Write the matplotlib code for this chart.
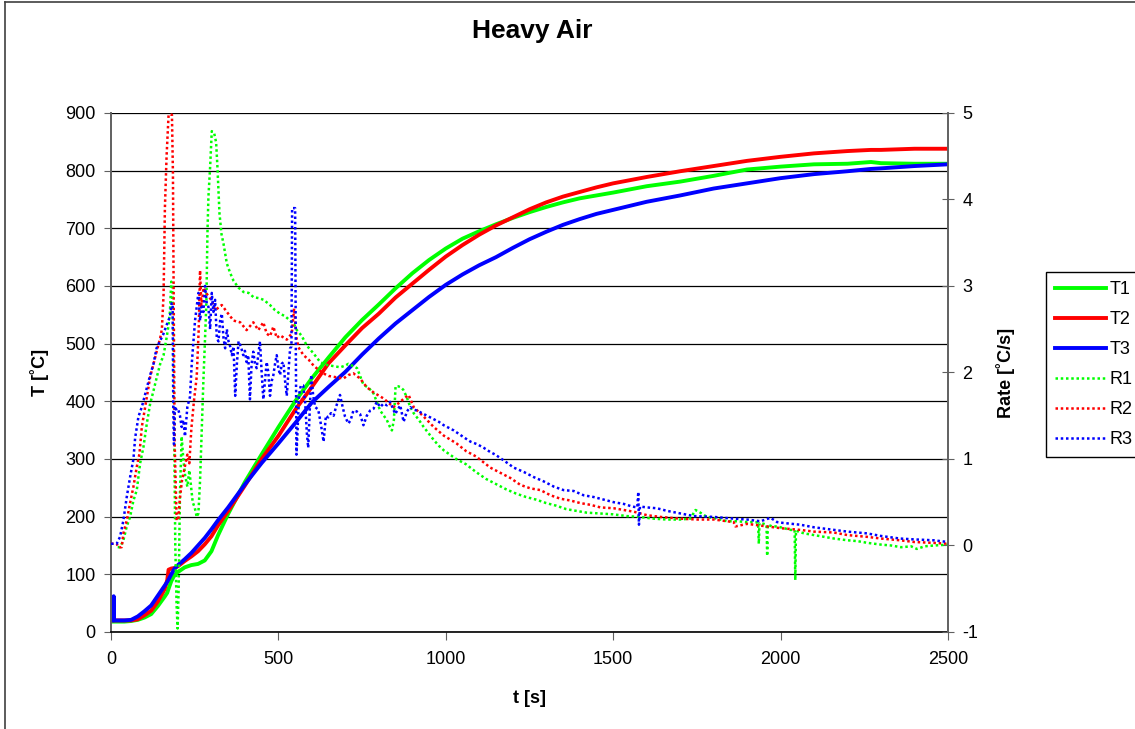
import matplotlib
matplotlib.use('Agg')
import matplotlib.pyplot as plt
from matplotlib.lines import Line2D

plt.rcParams['font.family'] = ['Liberation Sans', 'DejaVu Sans']
plt.rcParams['axes.unicode_minus'] = False

# temperatures, shared time grid [s]
t_T = [0, 5, 7, 8, 9, 20, 40, 60, 80, 100, 120, 140, 160, 168, 172, 180, 190, 200,
       220, 240, 260, 280, 300, 320, 350, 400, 450, 500, 550, 600, 650, 700, 750, 800,
       850, 900, 950, 1000, 1050, 1100, 1150, 1200, 1250, 1300, 1350, 1400, 1450, 1500,
       1600, 1700, 1800, 1900, 2000, 2100, 2200, 2270, 2300, 2400, 2500]
T1 = [18, 18, 18, 18, 18, 18, 18, 19, 21, 25, 31, 45, 61, 68, 75, 88, 99, 104,
      112, 116, 118, 124, 140, 168, 205, 260, 308, 355, 400, 440, 476, 511, 541, 568,
      596, 622, 645, 665, 682, 695, 707, 718, 728, 737, 745, 752, 757, 762,
      773, 781, 791, 802, 807, 811, 812, 815, 813, 812, 812]
T2 = [20, 20, 20, 20, 20, 20, 20, 20, 22, 29, 37, 53, 74, 90, 108, 110, 111, 114,
      123, 131, 140, 152, 166, 185, 210, 254, 300, 340, 385, 425, 466, 497, 527, 552,
      580, 604, 628, 651, 671, 689, 705, 719, 733, 745, 755, 763, 771, 778,
      789, 799, 808, 817, 824, 830, 834, 836, 836, 838, 838]
T3 = [20, 20, 20, 62, 20, 20, 20, 21, 27, 36, 46, 63, 80, 87, 91, 100, 110, 116,
      126, 137, 150, 163, 178, 194, 216, 256, 293, 327, 362, 398, 425, 451, 481, 509,
      535, 558, 581, 602, 620, 636, 650, 666, 681, 694, 706, 716, 725, 732,
      746, 757, 769, 778, 787, 794, 799, 803, 804, 808, 811]

# rates (t [s], rate [C/s])
R1 = [(20, -0.02), (27, -0.02), (37, 0.06), (47, 0.22), (57, 0.33), (67, 0.52), (77, 0.64),
      (82, 0.79), (87, 0.95), (97, 1.14), (107, 1.41), (117, 1.64), (127, 1.79), (137, 1.95),
      (147, 2.1), (157, 2.2), (166, 2.4), (172, 2.55), (176, 2.7), (180, 3.05), (183, 3.0),
      (186, 2.4), (189, 1.2), (192, 0.0), (196, -0.7), (199, -0.96), (202, -0.5), (206, 0.6),
      (211, 1.26), (216, 1.0), (221, 0.82), (228, 0.68), (234, 0.87), (238, 0.72), (244, 0.5),
      (250, 0.44), (256, 0.33), (261, 0.37), (266, 0.75), (271, 1.33), (276, 1.91), (281, 2.4),
      (285, 2.83), (288, 3.6), (291, 4.03), (296, 4.37), (301, 4.79), (308, 4.77), (314, 4.66),
      (318, 4.37), (324, 3.84), (330, 3.6), (336, 3.49), (346, 3.26), (356, 3.15), (366, 3.06),
      (381, 2.98), (396, 2.93), (411, 2.92), (426, 2.87), (441, 2.86), (456, 2.84), (475, 2.78),
      (490, 2.72), (505, 2.68), (520, 2.65), (535, 2.6), (548, 2.55), (555, 2.49), (560, 2.47),
      (570, 2.42), (585, 2.31), (605, 2.22), (625, 2.12), (640, 2.09), (655, 2.08), (670, 2.07),
      (685, 2.06), (700, 2.08), (709, 2.1), (720, 2.08), (735, 2.05), (745, 1.95), (754, 1.86),
      (770, 1.82), (784, 1.76), (804, 1.56), (815, 1.5), (824, 1.45), (832, 1.38), (839, 1.33),
      (845, 1.45), (850, 1.84), (858, 1.84), (865, 1.83), (873, 1.8), (883, 1.72), (894, 1.6),
      (904, 1.53), (920, 1.45), (934, 1.37), (950, 1.29), (964, 1.22), (980, 1.15), (994, 1.1),
      (1031, 1.0), (1060, 0.94), (1090, 0.85), (1120, 0.77), (1150, 0.71), (1180, 0.65),
      (1210, 0.6), (1240, 0.56), (1270, 0.53), (1300, 0.49), (1330, 0.46), (1360, 0.42),
      (1390, 0.4), (1420, 0.38), (1460, 0.37), (1500, 0.36), (1540, 0.34), (1580, 0.33),
      (1620, 0.31), (1660, 0.3), (1700, 0.3), (1730, 0.31), (1746, 0.41), (1760, 0.38),
      (1780, 0.33), (1810, 0.31), (1840, 0.28), (1870, 0.28), (1900, 0.27), (1925, 0.27),
      (1933, 0.26), (1935, 0.02), (1937, 0.26), (1950, 0.25), (1958, 0.24), (1960, -0.12),
      (1962, 0.24), (1975, 0.22), (1990, 0.22), (2010, 0.2), (2030, 0.18), (2042, 0.18),
      (2044, -0.40), (2046, 0.17), (2070, 0.14), (2100, 0.12), (2130, 0.1), (2160, 0.08),
      (2200, 0.06), (2230, 0.05), (2260, 0.03), (2300, 0.01), (2330, 0.0), (2360, -0.02),
      (2390, -0.01), (2407, -0.04), (2430, -0.01), (2460, 0.0), (2500, 0.01)]
R2 = [(0, 0.02), (17, 0.02), (22, -0.02), (32, -0.02), (37, 0.14), (47, 0.29), (57, 0.49),
      (67, 0.68), (77, 0.91), (85, 1.06), (92, 1.37), (102, 1.6), (112, 1.83), (117, 1.95),
      (127, 2.1), (137, 2.25), (147, 2.4), (152, 2.5), (157, 2.9), (161, 3.9), (166, 4.5),
      (172, 4.98), (176, 4.98), (182, 4.98), (185, 4.3), (187, 3.0), (190, 1.2), (196, 0.29),
      (201, 0.3), (206, 0.55), (212, 0.75), (220, 0.9), (228, 1.05), (234, 0.95), (240, 1.35),
      (248, 1.68), (256, 1.95), (262, 2.5), (266, 3.18), (270, 2.75), (276, 2.98), (286, 2.91),
      (301, 2.83), (311, 2.72), (331, 2.78), (346, 2.7), (366, 2.6), (386, 2.58), (405, 2.49),
      (425, 2.58), (440, 2.49), (455, 2.58), (465, 2.45), (475, 2.42), (485, 2.53), (495, 2.4),
      (505, 2.43), (525, 2.38), (540, 2.45), (547, 2.74), (554, 2.4), (560, 2.29), (575, 2.2),
      (590, 2.15), (605, 2.08), (620, 2.03), (634, 1.99), (650, 1.96), (665, 1.95), (680, 1.94),
      (694, 1.93), (709, 1.97), (724, 1.99), (744, 1.93), (764, 1.83), (784, 1.77), (814, 1.7),
      (844, 1.6), (864, 1.66), (875, 1.7), (889, 1.74), (904, 1.6), (934, 1.49), (964, 1.37),
      (994, 1.27), (1032, 1.18), (1061, 1.09), (1090, 1.03), (1110, 0.97), (1133, 0.9),
      (1163, 0.84), (1193, 0.78), (1223, 0.7), (1253, 0.66), (1283, 0.64), (1313, 0.58),
      (1343, 0.54), (1372, 0.52), (1402, 0.49), (1432, 0.47), (1462, 0.44), (1502, 0.43),
      (1532, 0.41), (1562, 0.39), (1601, 0.35), (1641, 0.33), (1701, 0.31), (1751, 0.3),
      (1801, 0.3), (1860, 0.27), (1865, 0.22), (1900, 0.25), (1960, 0.22), (2000, 0.2),
      (2059, 0.18), (2100, 0.16), (2159, 0.15), (2200, 0.12), (2258, 0.1), (2300, 0.08),
      (2357, 0.06), (2400, 0.04), (2457, 0.03), (2500, 0.02)]
R3 = [(0, 0.02), (17, 0.02), (27, 0.1), (37, 0.29), (47, 0.56), (57, 0.79), (67, 1.0),
      (72, 1.24), (82, 1.49), (92, 1.6), (102, 1.75), (117, 1.97), (127, 2.1), (136, 2.28),
      (146, 2.36), (156, 2.44), (171, 2.6), (176, 2.64), (181, 2.8), (184, 2.8), (186, 1.6),
      (188, 1.17), (191, 1.61), (196, 1.56), (201, 1.57), (206, 1.5), (211, 1.37), (216, 1.45),
      (221, 1.26), (228, 1.6), (236, 1.72), (241, 2.09), (251, 2.6), (261, 2.92), (266, 2.6),
      (271, 2.76), (276, 2.7), (281, 3.0), (286, 2.8), (291, 2.76), (296, 2.5), (301, 2.92),
      (306, 2.7), (311, 2.84), (316, 2.4), (321, 2.36), (326, 2.6), (331, 2.68), (336, 2.4),
      (341, 2.28), (346, 2.5), (351, 2.36), (356, 2.3), (361, 2.2), (366, 2.3), (371, 1.73),
      (376, 2.1), (381, 2.36), (388, 2.3), (395, 2.2), (400, 2.25), (405, 2.12), (410, 2.2),
      (415, 1.69), (420, 2.1), (425, 2.24), (430, 2.1), (435, 2.05), (440, 2.2), (445, 2.36),
      (450, 2.0), (455, 1.69), (460, 1.9), (465, 2.12), (470, 2.0), (475, 1.73), (480, 1.9),
      (485, 1.97), (490, 2.1), (495, 2.2), (500, 2.05), (505, 1.97), (510, 2.1), (515, 2.12),
      (520, 1.9), (525, 1.73), (530, 2.0), (535, 2.28), (539, 2.3), (541, 3.9), (550, 3.9),
      (552, 2.3), (554, 1.05), (558, 1.4), (562, 1.75), (567, 1.85), (574, 1.85), (580, 1.65),
      (585, 1.3), (589, 1.13), (594, 1.6), (598, 1.97), (604, 1.73), (610, 1.6), (619, 1.57),
      (627, 1.4), (635, 1.2), (642, 1.5), (649, 1.48), (657, 1.53), (665, 1.5), (672, 1.6),
      (684, 1.74), (692, 1.6), (699, 1.49), (709, 1.41), (716, 1.45), (724, 1.56), (734, 1.55),
      (744, 1.52), (754, 1.39), (764, 1.5), (774, 1.56), (784, 1.58), (794, 1.66), (804, 1.6),
      (814, 1.64), (824, 1.62), (834, 1.66), (849, 1.52), (864, 1.62), (874, 1.43), (884, 1.55),
      (894, 1.6), (904, 1.57), (914, 1.56), (924, 1.54), (934, 1.52), (949, 1.49), (964, 1.46),
      (979, 1.43), (994, 1.39), (1009, 1.36), (1024, 1.33), (1039, 1.29), (1054, 1.25),
      (1074, 1.2), (1094, 1.17), (1113, 1.13), (1133, 1.08), (1148, 1.05), (1163, 1.01),
      (1178, 0.97), (1203, 0.9), (1233, 0.85), (1263, 0.79), (1293, 0.74), (1323, 0.68),
      (1352, 0.64), (1382, 0.63), (1412, 0.58), (1442, 0.56), (1472, 0.53), (1502, 0.5),
      (1532, 0.48), (1557, 0.45), (1572, 0.44), (1575, 0.62), (1577, 0.24), (1580, 0.45),
      (1601, 0.44), (1631, 0.43), (1661, 0.4), (1701, 0.37), (1741, 0.34), (1801, 0.33),
      (1860, 0.31), (1900, 0.3), (1940, 0.28), (1970, 0.32), (1990, 0.27), (2009, 0.26),
      (2059, 0.24), (2100, 0.21), (2159, 0.18), (2200, 0.16), (2258, 0.14), (2300, 0.11),
      (2357, 0.08), (2400, 0.07), (2457, 0.06), (2500, 0.04)]

x_ticks = [0, 500, 1000, 1500, 2000, 2500]
T_ticks = [0, 100, 200, 300, 400, 500, 600, 700, 800, 900]
rate_ticks = [-1, 0, 1, 2, 3, 4, 5]

GREEN, RED, BLUE = '#00ff00', '#ff0000', '#0000ff'
DOTTED = (0, (1, 1.1))
T_LW = 2.8
R_LW = 1.8

fig = plt.figure(figsize=(11.35, 7.29), dpi=100)
ax = fig.add_axes([0.0978, 0.1331, 0.7374, 0.7119])
ax2 = ax.twinx()

for vals, col, name in [(T1, GREEN, 'T1'), (T2, RED, 'T2'), (T3, BLUE, 'T3')]:
    ax.plot(t_T, vals, color=col, lw=T_LW, label=name)

for data, col, name in [(R1, GREEN, 'R1'), (R2, RED, 'R2'), (R3, BLUE, 'R3')]:
    ts = [p[0] for p in data]
    rs = [p[1] for p in data]
    ax2.plot(ts, rs, color=col, lw=R_LW, ls=DOTTED, label=name)

ax.set_xlim(0, 2500)
ax.set_ylim(0, 900)
ax2.set_ylim(-1, 5)
ax.set_xticks(x_ticks)
ax.set_yticks(T_ticks)
ax2.set_yticks(rate_ticks)
ax.grid(axis='y', color='black', lw=0.9)
ax.set_axisbelow(True)

for a in (ax, ax2):
    a.spines['top'].set_visible(False)
ax2.spines['left'].set_visible(False)
ax2.spines['bottom'].set_visible(False)
ax.spines['left'].set_color('#606060')
ax.spines['left'].set_linewidth(1.4)
ax.spines['right'].set_visible(False)
ax.spines['bottom'].set_color('black')
ax.spines['bottom'].set_linewidth(1.2)
ax2.spines['right'].set_color('#606060')
ax2.spines['right'].set_linewidth(1.4)

ax.tick_params(axis='y', direction='out', length=5, labelsize=13, pad=6, color='#606060')
ax.tick_params(axis='x', direction='out', length=6, labelsize=13, pad=8, color='#606060')
ax2.tick_params(axis='y', direction='inout', length=9, labelsize=13, pad=6, color='#606060')

ax.set_ylabel('T [˚C]', fontsize=13, fontweight='bold')
ax.yaxis.set_label_coords(-0.074, 0.5)
ax2.set_ylabel('Rate [˚C/s]', fontsize=13, fontweight='bold')
ax2.yaxis.set_label_coords(1.057, 0.5)
ax.set_xlabel('t [s]', fontsize=13, fontweight='bold')
ax.xaxis.set_label_coords(0.5, -0.112)

fig.text(0.469, 0.958, 'Heavy Air', fontsize=19, fontweight='bold', ha='center', va='center')

handles = [
    Line2D([], [], color=GREEN, lw=T_LW, label='T1'),
    Line2D([], [], color=RED, lw=T_LW, label='T2'),
    Line2D([], [], color=BLUE, lw=T_LW, label='T3'),
    Line2D([], [], color=GREEN, lw=R_LW, ls=DOTTED, label='R1'),
    Line2D([], [], color=RED, lw=R_LW, ls=DOTTED, label='R2'),
    Line2D([], [], color=BLUE, lw=R_LW, ls=DOTTED, label='R3'),
]
leg = fig.legend(handles=handles, loc='upper left', bbox_to_anchor=(1046 / 1135, 1 - 272 / 729),
                 bbox_transform=fig.transFigure, fontsize=13, frameon=True, fancybox=False,
                 edgecolor='black', framealpha=1, handlelength=2.8, handletextpad=0.2,
                 labelspacing=0.72, borderpad=0.5, borderaxespad=0)
leg.get_frame().set_linewidth(1.0)

# chart-area border (left and top edges are visible in the crop)
fig.add_artist(Line2D([0.0044, 0.0044], [0, 0.997], transform=fig.transFigure, color='#404040', lw=1.2))
fig.add_artist(Line2D([0.0044, 1], [0.997, 0.997], transform=fig.transFigure, color='#404040', lw=1.2))

fig.savefig('out.png', dpi=100)
plt.close(fig)
